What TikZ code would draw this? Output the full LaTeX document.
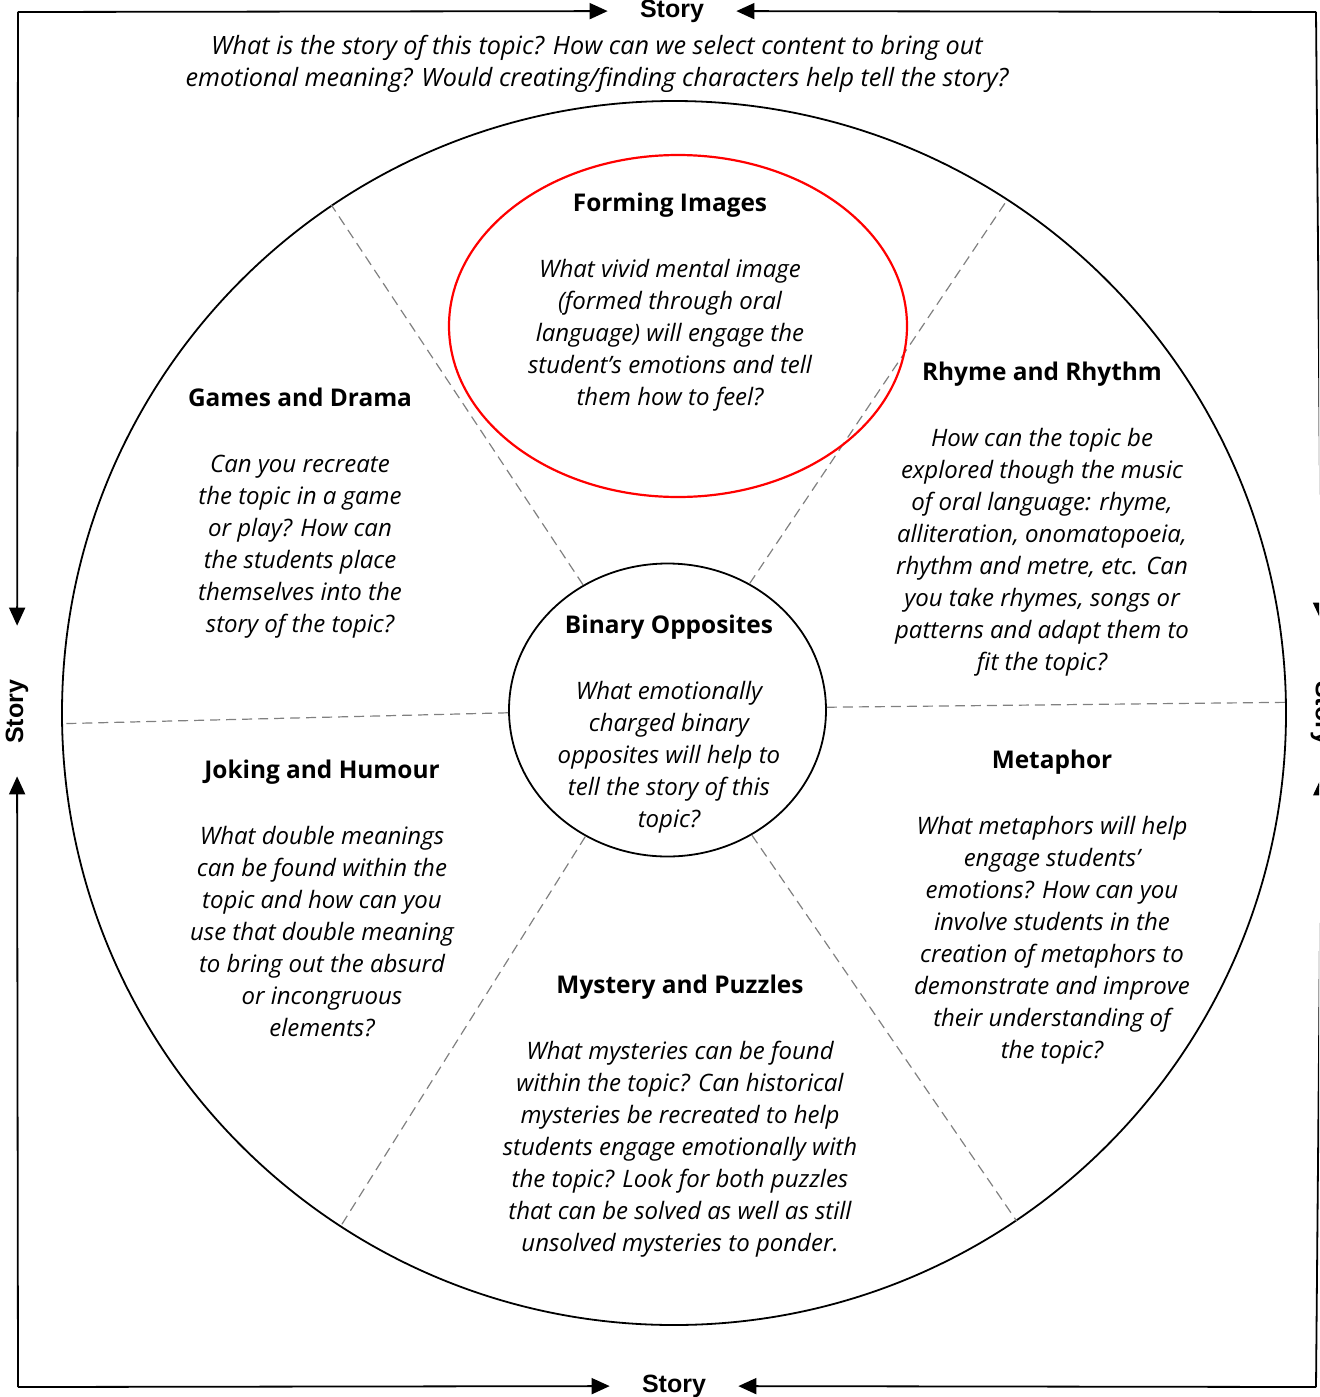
\documentclass[tikz,border=0pt]{standalone}
\usepackage{fontspec}
\setmainfont{Open Sans}
\newfontfamily\storyfont{Liberation Sans}
\usetikzlibrary{arrows.meta,shapes.geometric}

\newcommand{\heading}[1]{{\upshape\bfseries\fontsize{12.2}{16}\selectfont #1}\\[17pt]}

\tikzset{
  every node/.style={font=\fontsize{12}{16}\selectfont\itshape, align=center},
  story/.style={font=\storyfont\bfseries\fontsize{12.5}{14}\selectfont, inner xsep=16pt, inner ysep=2pt},
  wheel/.style={circle, draw, line width=0.9pt, minimum size=612pt, inner sep=0pt},
  hub/.style={ellipse, draw, line width=0.9pt, minimum width=158.5pt, minimum height=146.5pt, inner sep=0pt},
  spoke/.style={gray, line width=0.6pt, dash pattern=on 5pt off 3pt},
}

\begin{document}
\begin{tikzpicture}[x=0.5pt,y=-0.5pt]
    \clip (0,0) rectangle (1319,1397);

    % frame corners
    \coordinate (nw) at (18,12);
    \coordinate (ne) at (1316,12);
    \coordinate (sw) at (18,1387);
    \coordinate (se) at (1316,1387);

    \node[story] (storyN) at (672,11) {Story};
    \node[story] (storyS) at (674,1386) {Story};
    \node[story,rotate=90] (storyW) at (17,712) {Story};
    \node[story,rotate=-90] (storyE) at (1322,713) {Story};

    \begin{scope}[every path/.style={-{Triangle[length=9pt,width=8pt]}, line width=0.9pt}]
       \draw (nw) -- (storyN);
       \draw (ne) -- (storyN);
       \draw[shorten >=11pt] (nw) -- (storyW);
       \draw (sw) -- (storyW);
       \draw (sw) -- (storyS);
       \draw (se) -- (storyS);
       \draw[shorten >=14pt] (ne) -- (storyE);
       \draw (se) -- (storyE);
    \end{scope}

    % wheel
    \node[wheel] (wheel) at (674,713) {};
    \node[hub] (binary) at (667.5,710) {};
    \foreach \a in {1,57,124,181,237,304}
       \draw[spoke] (binary.\a) -- (wheel.\a);

    \draw[red, line width=1.1pt] (678,326) ellipse [x radius=229, y radius=171];

    \node[font=\fontsize{12.6}{16}\selectfont\itshape] (question) at (597,64) {What is the story of this topic? How can we select content to bring out\\
       emotional meaning? Would creating/finding characters help tell the story?};

    \node (forming) at (670,302) {\heading{Forming Images}
       What vivid mental image\\ (formed through oral\\ language) will engage the\\
       student’s emotions and tell\\ them how to feel?};

    \node (games) at (300,513) {\heading{Games and Drama}
       Can you recreate\\ the topic in a game\\ or play? How can\\
       the students place\\ themselves into the\\ story of the topic?};

    \node (rhyme) at (1042,519) {\heading{Rhyme and Rhythm}
       How can the topic be\\ explored though the music\\ of oral language: rhyme,\\
       alliteration, onomatopoeia,\\ rhythm and metre, etc. Can\\ you take rhymes, songs or\\
       patterns and adapt them to\\ fit the topic?};

    \node (opposites) at (669,724) {\heading{Binary Opposites}
       What emotionally\\ charged binary\\ opposites will help to\\
       tell the story of this\\ topic?};

    \node (joking) at (322,898) {\heading{Joking and Humour}
       What double meanings\\ can be found within the\\ topic and how can you\\
       use that double meaning\\ to bring out the absurd\\ or incongruous\\ elements?};

    \node (metaphor) at (1052,907) {\heading{Metaphor}
       What metaphors will help\\ engage students’\\ emotions? How can you\\
       involve students in the\\ creation of metaphors to\\ demonstrate and improve\\
       their understanding of\\ the topic?};

    \node (mystery) at (680,1116) {\heading{Mystery and Puzzles}
       What mysteries can be found\\ within the topic? Can historical\\
       mysteries be recreated to help\\ students engage emotionally with\\
       the topic? Look for both puzzles\\ that can be solved as well as still\\
       unsolved mysteries to ponder.};
\end{tikzpicture}
\end{document}
